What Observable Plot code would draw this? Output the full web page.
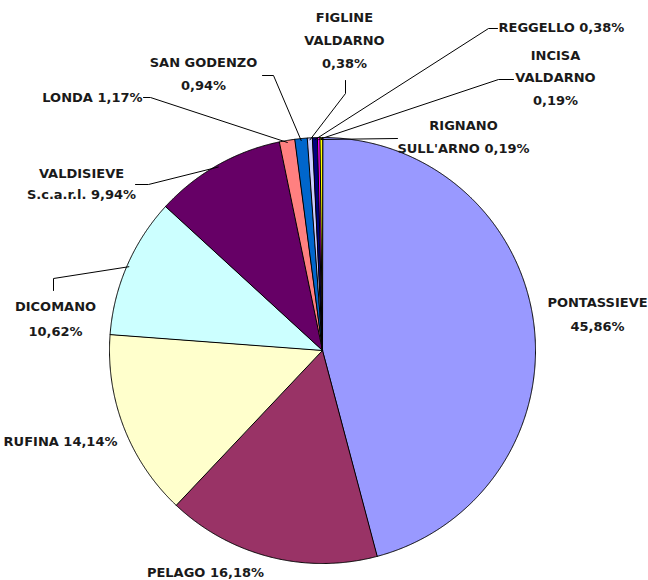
<!DOCTYPE html>
<html>
<head>
<meta charset="utf-8">
<script src="https://cdn.jsdelivr.net/npm/d3@7"></script>
<script src="https://cdn.jsdelivr.net/npm/@observablehq/plot@0.6"></script>
<style>
  html, body { margin: 0; padding: 0; background: #fff; }
  #chart svg { display: block; }
</style>
</head>
<body>
<div id="chart"></div>
<script>
// ---- data ----
const names = ["PONTASSIEVE", "PELAGO", "RUFINA", "DICOMANO", "VALDISIEVE S.c.a.r.l.", "LONDA",
  "SAN GODENZO", "FIGLINE VALDARNO", "REGGELLO", "INCISA VALDARNO", "RIGNANO SULL'ARNO"];
const shares = [45.86, 16.18, 14.14, 10.62, 9.94, 1.17, 0.94, 0.38, 0.38, 0.19, 0.19];
const colors = ["#9999FF", "#993366", "#FFFFCC", "#CCFFFF", "#660066", "#FF8080",
  "#0066CC", "#CCCCFF", "#000080", "#FF00FF", "#FFFF00"];

// ---- layout (pixels) ----
const W = 648, H = 580;
const cx = 322, cy = 350, R = 213;
const labelLayout = [
  {lines: ["PONTASSIEVE", "%"], x: 597, y: 302, lh: 24, anchor: "middle", leader: null},
  {lines: ["PELAGO %"], x: 205, y: 572, lh: 0, anchor: "middle", leader: null},
  {lines: ["RUFINA %"], x: 117, y: 441, lh: 0, anchor: "end", leader: null},
  {lines: ["DICOMANO", "%"], x: 55, y: 306, lh: 25, anchor: "middle", leader: [[53, 278], [53, 290]]},
  {lines: ["VALDISIEVE", "S.c.a.r.l. %"], x: 81, y: 173, lh: 21, anchor: "middle", leader: [[148, 184], [135, 184]]},
  {lines: ["LONDA %"], x: 142, y: 97, lh: 0, anchor: "end", leader: [[150, 97], [143, 97]]},
  {lines: ["SAN GODENZO", "%"], x: 203, y: 62, lh: 23, anchor: "middle", leader: [[273, 75], [262, 75]]},
  {lines: ["FIGLINE", "VALDARNO", "%"], x: 344, y: 17, lh: 23, anchor: "middle", leader: [[345, 93], [345, 80]]},
  {lines: ["REGGELLO %"], x: 498, y: 27, lh: 0, anchor: "start", leader: [[488, 28], [497, 28]]},
  {lines: ["INCISA", "VALDARNO", "%"], x: 555, y: 55, lh: 22.5, anchor: "middle", leader: [[498, 79], [513, 79]]},
  {lines: ["RIGNANO", "SULL'ARNO %"], x: 463, y: 125, lh: 23, anchor: "middle", leader: [[397, 138]]}
];

const fmt = v => v.toFixed(2).replace(".", ",") + "%";

// ---- geometry via d3.pie ----
const arcs = d3.pie().sort(null).value(d => d)(shares);
const pt = (a, r) => [cx + r * Math.sin(a), cy - r * Math.cos(a)];

const slicePts = [];
arcs.forEach((a, i) => {
  slicePts.push({name: names[i], color: colors[i], x: cx, y: cy});
  const n = Math.max(2, Math.ceil((a.endAngle - a.startAngle) / (Math.PI / 720)));
  for (let k = 0; k <= n; k++) {
    const ang = a.startAngle + (a.endAngle - a.startAngle) * k / n;
    const [x, y] = pt(ang, R);
    slicePts.push({name: names[i], color: colors[i], x, y});
  }
});

const leaderPts = [];
const textRows = [];
arcs.forEach((a, i) => {
  const L = labelLayout[i];
  if (L.leader) {
    const mid = (a.startAngle + a.endAngle) / 2;
    const [x0, y0] = pt(mid, R - 2);
    leaderPts.push({name: names[i], x: x0, y: y0});
    L.leader.forEach(([x, y]) => leaderPts.push({name: names[i], x, y}));
  }
  L.lines.forEach((ln, j) => {
    textRows.push({
      text: ln.replace("%", fmt(shares[i])),
      x: L.x, y: L.y + j * L.lh, anchor: L.anchor
    });
  });
});

const textMark = anchor => Plot.text(textRows.filter(d => d.anchor === anchor), {
  x: "x", y: "y", text: "text", textAnchor: anchor, lineAnchor: "middle",
  fill: "#1a1a1a", fontWeight: "bold", fontSize: 13
});

const chart = Plot.plot({
  width: W, height: H,
  margin: 0,
  style: {fontFamily: "'DejaVu Sans', Verdana, sans-serif", background: "#fff"},
  x: {domain: [0, W], range: [0, W], axis: null},
  y: {domain: [0, H], range: [0, H], axis: null},
  color: {type: "identity"},
  marks: [
    Plot.line(slicePts, {x: "x", y: "y", z: "name", fill: "color", stroke: "#000",
      strokeWidth: 1, curve: "linear-closed", strokeLinejoin: "round"}),
    Plot.line(leaderPts, {x: "x", y: "y", z: "name", stroke: "#000", strokeWidth: 1}),
    textMark("middle"), textMark("start"), textMark("end")
  ]
});
document.getElementById("chart").appendChild(chart);
</script>
</body>
</html>
